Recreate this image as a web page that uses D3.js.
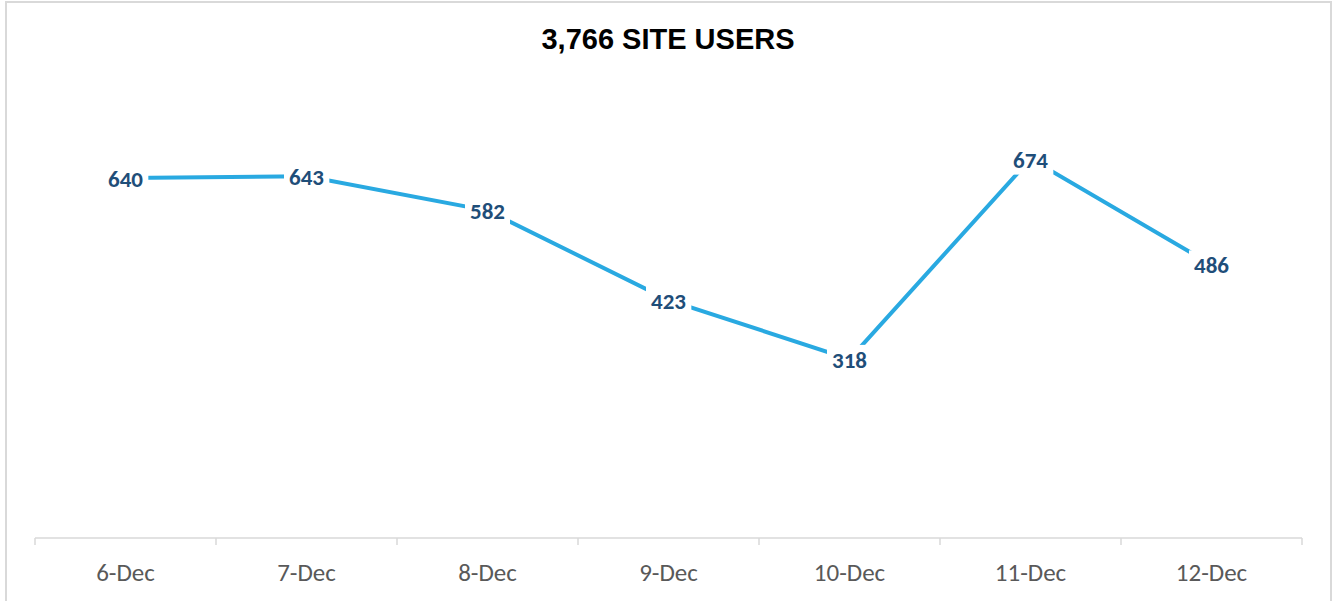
<!DOCTYPE html>
<html>
<head>
    <meta charset="utf-8">
    <title>3,766 Site Users</title>
    <script src="https://cdn.jsdelivr.net/npm/d3@7"></script>
    <style>
        body { margin: 0; background: #fff; }
        svg { font-family: Carlito, Lato, 'Open Sans', sans-serif; }
        .title { font-family: 'Liberation Sans', Arial, sans-serif; font-weight: bold; font-size: 29px; }
        .xlab { font-size: 25px; fill: #595959; }
        .val { font-size: 23px; font-weight: bold; fill: #1f4e79; }
    </style>
</head>
<body>
<svg id="chart" width="1337" height="601"></svg>
<script>
    // data
    var days = ["6-Dec", "7-Dec", "8-Dec", "9-Dec", "10-Dec", "11-Dec", "12-Dec"];
    var users = [640, 643, 582, 423, 318, 674, 486];
    var chartTitle = "3,766 SITE USERS";

    var svg = d3.select("#chart");

    // outer frame
    svg.append("rect")
        .attr("x", 6).attr("y", 2)
        .attr("width", 1325).attr("height", 610)
        .attr("fill", "none")
        .attr("stroke", "#d9d9d9")
        .attr("stroke-width", 2);

    var margin = { top: 88, left: 35, right: 35, bottom: 63 };
    var width = 1337 - margin.left - margin.right,
        height = 601 - margin.top - margin.bottom;

    var g = svg.append("g")
        .attr("transform", `translate(${margin.left},${margin.top})`);

    var x = d3.scaleBand().domain(days).range([0, width]);
    var y = d3.scaleLinear().domain([0, 800]).range([height, 0]);

    // axis line and tick marks on category boundaries
    g.append("line")
        .attr("x1", 0).attr("x2", width)
        .attr("y1", height).attr("y2", height)
        .attr("stroke", "#d9d9d9").attr("stroke-width", 1.5);

    var bounds = days.map(d => x(d)).concat([width]);
    g.selectAll(".tick")
        .data(bounds)
        .enter().append("line")
        .attr("x1", d => d).attr("x2", d => d)
        .attr("y1", height).attr("y2", height + 7)
        .attr("stroke", "#d9d9d9").attr("stroke-width", 1.5);

    g.selectAll(".xlab")
        .data(days)
        .enter().append("text")
        .attr("class", "xlab")
        .attr("x", d => x(d) + x.bandwidth() / 2)
        .attr("y", height + 43)
        .attr("text-anchor", "middle")
        .text(d => d);

    // line
    var line = d3.line()
        .x((d, i) => x(days[i]) + x.bandwidth() / 2)
        .y(d => y(d));

    g.append("path")
        .datum(users)
        .attr("fill", "none")
        .attr("stroke", "#29a9e1")
        .attr("stroke-width", 4)
        .attr("d", line);

    // value labels sitting on the points, white box behind
    var labels = g.selectAll(".lab")
        .data(users)
        .enter().append("g")
        .attr("transform", (d, i) => `translate(${x(days[i]) + x.bandwidth() / 2},${y(d)})`);

    labels.append("rect").attr("fill", "#fff");
    labels.append("text")
        .attr("class", "val")
        .attr("text-anchor", "middle")
        .attr("dy", "0.38em")
        .text(d => d);

    labels.each(function () {
        var b = d3.select(this).select("text").node().getBBox();
        d3.select(this).select("rect")
            .attr("x", b.x - 5).attr("y", b.y - 1)
            .attr("width", b.width + 10).attr("height", b.height + 2);
    });

    svg.append("text")
        .attr("class", "title")
        .attr("x", 668)
        .attr("y", 49)
        .attr("text-anchor", "middle")
        .text(chartTitle);
</script>
</body>
</html>
